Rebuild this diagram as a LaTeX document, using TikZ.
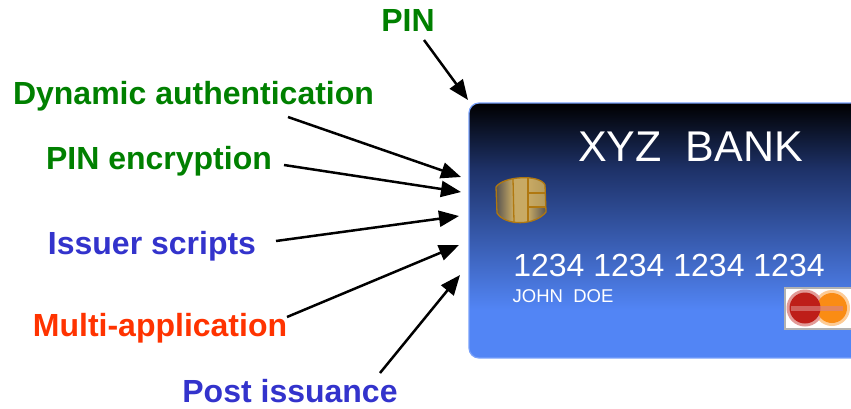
\documentclass[tikz,border=0pt]{standalone}
\usepackage{fontspec}
\setmainfont{Liberation Sans}
\usetikzlibrary{arrows.meta,calc}
\definecolor{lblgreen}{RGB}{0,128,0}
\definecolor{lblblue}{RGB}{51,51,204}
\definecolor{lblred}{RGB}{255,51,0}
\definecolor{chipedge}{RGB}{176,120,16}
\definecolor{chiplight}{RGB}{200,170,100}
\definecolor{chipdark}{RGB}{88,84,80}
\definecolor{cardmid}{RGB}{30,50,105}
\definecolor{cardlow}{RGB}{82,133,245}
\definecolor{cardedge}{RGB}{120,160,250}
\definecolor{mcred}{RGB}{190,30,25}
\definecolor{mcorange}{RGB}{250,140,20}
\tikzset{
  lbl/.style={font=\fontsize{32}{32}\selectfont\bfseries, inner sep=0pt, anchor=center},
  conn/.style={black, line width=2.5pt, -{Triangle[length=20pt,width=16pt]}},
  cardtxt/.style={white, inner sep=0pt, anchor=center},
  chipline/.style={chipedge, line width=1.3pt}
}
\begin{document}
\begin{tikzpicture}[x=1pt,y=-1pt]
\useasboundingbox (0,0) rectangle (851,408);
% card
\begin{scope}
\clip[rounded corners=10pt] (469,103) -- (469,358) -- (870,358) -- (870,103) -- cycle;
\shade[top color=black, bottom color=cardmid] (469,103) rectangle (851,170);
\shade[top color=cardmid, bottom color=cardlow] (469,170) rectangle (851,310);
\fill[cardlow] (469,310) rectangle (851,358);
\end{scope}
\draw[cardedge, line width=1.2pt, rounded corners=10pt] (851,103) -- (469,103) -- (469,358) -- (851,358);
% chip
\begin{scope}
\path[clip] (496,187) .. controls (503,176) and (540,174) .. (545,185) -- (546,212) .. controls (535,226) and (505,226) .. (497,213) -- cycle;
\shade[left color=chipdark, right color=chiplight] (496,175) rectangle (513,226);
\fill[chiplight] (513,175) rectangle (528,226);
\shade[left color=chiplight, right color=chiplight!90!black] (528,175) rectangle (546,207);
\shade[left color=chiplight, right color=chipdark] (528,207) rectangle (546,226);
\end{scope}
\draw[chipline] (496,187) .. controls (503,176) and (540,174) .. (545,185) -- (546,212) .. controls (535,226) and (505,226) .. (497,213) -- cycle;
\draw[chipline] (513,179) -- (514,222);
\draw[chipline] (528,178) -- (528,222);
\draw[chipline] (528,193) -- (545,193);
\draw[chipline] (528,207) -- (546,207);
% card texts
\node[cardtxt, font=\fontsize{43}{43}\selectfont] (bank) at (690.5,146.5) {XYZ\ \ BANK};
\node[cardtxt, font=\fontsize{32}{32}\selectfont] (num) at (669,265) {1234 1234 1234 1234};
\node[cardtxt, font=\fontsize{18.5}{18.5}\selectfont] (holder) at (563,296) {JOHN\ \ DOE};
% logo
\fill[white] (784,287) rectangle (851,330);
\draw[black!30, line width=1.5pt] (851,288) -- (785,288) -- (785,329) -- (851,329);
\fill[mcorange!45] (832,308) circle (18pt);
\fill[mcred!45] (805,308) circle (18.5pt);
\fill[mcorange] (832,308) circle (15pt);
\fill[mcred] (805,308) circle (15.5pt);
\fill[white!45!mcred, opacity=.65] (791,306) rectangle (843,311);
% labels
\node[lbl, text=lblgreen] (pin) at (408,20) {PIN};
\node[lbl, text=lblgreen] (dyn) at (193.5,96) {Dynamic authentication};
\node[lbl, text=lblgreen] (enc) at (159,161) {PIN encryption};
\node[lbl, text=lblblue] (iss) at (152,246) {Issuer scripts};
\node[lbl, text=lblred] (multi) at (160,328) {Multi-application};
\node[lbl, text=lblblue] (post) at (290,391) {Post issuance};
% targets on the card edge
\coordinate (t1) at (468,100);
\coordinate (t2) at (461,177);
\coordinate (t3) at (461,192);
\coordinate (t4) at (459,216);
\coordinate (t5) at (459,245);
\coordinate (t6) at (460,275);
\draw[conn] ($(pin.center)+(16,20)$) -- (t1);
\draw[conn] ($(dyn.center)+(94.5,21)$) -- (t2);
\draw[conn] ($(enc.center)+(125,4)$) -- (t3);
\draw[conn] ($(iss.center)+(124,-5)$) -- (t4);
\draw[conn] ($(multi.center)+(127,-11)$) -- (t5);
\draw[conn] ($(post.center)+(90,-18)$) -- (t6);
\end{tikzpicture}
\end{document}
